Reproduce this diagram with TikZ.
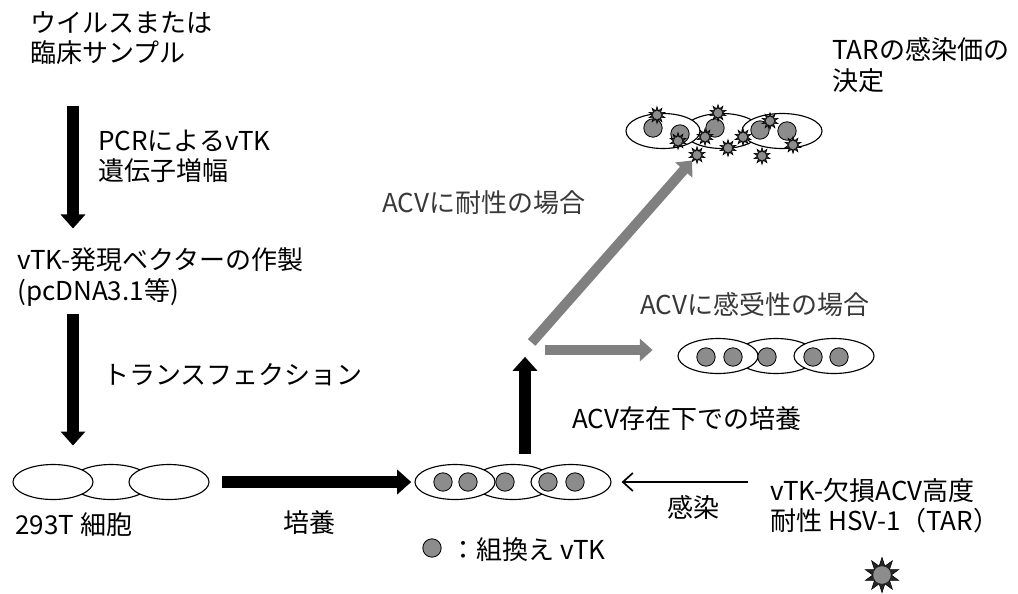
\documentclass[tikz,border=0pt]{standalone}
\usepackage{fontspec}
\setmainfont{Noto Sans CJK JP}
\usetikzlibrary{arrows.meta,shapes.geometric}

\begin{document}
\begin{tikzpicture}[
  x=0.025cm,y=-0.025cm,
  lbl/.style={font=\fontsize{18.5}{21.5}\selectfont,align=left,anchor=west,inner sep=0pt},
  glbl/.style={lbl,text=black!78},
  cell/.style={ellipse,draw,line width=0.8pt,fill=white,minimum width=2cm,minimum height=0.875cm,inner sep=0pt},
  vtk/.style={circle,draw,line width=0.6pt,fill=black!45,minimum size=0.46cm,inner sep=0pt},
  virus/.style={star,star points=10,star point ratio=1.9,draw,fill=black!85,minimum size=#1,inner sep=0pt,
    path picture={\fill[black!45] (path picture bounding box.center) circle (0.25*#1);}},
  blk/.style={-{Triangle[width=0.6cm,length=0.35cm]},line width=0.3cm},
  gry/.style={-{Triangle[width=0.55cm,length=0.32cm]},line width=0.25cm,black!50},
  thinarr/.style={-{Straight Barb[length=2.5mm,width=4.5mm]},line width=1.2pt}
]
  \useasboundingbox (0,0) rectangle (1018,593);

  % left column
  \node[lbl] (src) at (30,38) {ウイルスまたは\\臨床サンプル};
  \node[lbl] (pcr) at (98,156) {PCRによるvTK\\遺伝子増幅};
  \node[lbl] (vec) at (17,277) {vTK-発現ベクターの作製\\(pcDNA3.1等)};
  \node[lbl] (trans) at (103,375) {トランスフェクション};

  % 293T cells
  \node[cell] (a2) at (111,482) {};
  \node[cell] (a1) at (53,482) {};
  \node[cell] (a3) at (169,482) {};
  \node[lbl] (lab293) at (15,525) {293T 細胞};
  \node[lbl] (culture) at (283,523) {培養};

  % cells expressing vTK
  \node[cell] (b2) at (513,482) {};
  \node[cell] (b1) at (455,482) {};
  \node[cell] (b3) at (571,482) {};
  \foreach \x [count=\i] in {443,468,505,548,575} \node[vtk] (bv\i) at (\x,482) {};
  \node[vtk] (key) at (432,548) {};
  \node[lbl] (keylbl) at (450,550) {：組換え vTK};

  % TAR
  \node[lbl] (infect) at (667,508) {感染};
  \node[lbl] (hsv) at (770,506) {vTK-欠損ACV高度\\耐性 HSV-1（TAR）};
  \node[virus=0.88cm] (tar) at (882,575) {};

  \node[lbl] (acvcult) at (572,419) {ACV存在下での培養};

  % sensitive
  \node[cell] (c2) at (776,356) {};
  \node[cell] (c1) at (718,356) {};
  \node[cell] (c3) at (834,356) {};
  \foreach \x [count=\i] in {706,733,767,813,839} \node[vtk] (cv\i) at (\x,357) {};
  \node[glbl] (senslbl) at (640,305) {ACVに感受性の場合};

  % resistant
  \node[cell,minimum width=1.9cm] (d2) at (722,131) {};
  \node[cell,minimum width=1.85cm] (d1) at (663,131) {};
  \node[cell] (d3) at (782,131) {};
  \foreach \x/\y [count=\i] in {653/128,680/134,715/128,760/130,787/131} \node[vtk] (dv\i) at (\x,\y) {};
  \foreach \x/\y [count=\i] in {657/115,678/141,718/113,705/137,728/148,743/137,770/121,762/156,793/145,697/155}
    \node[virus=0.42cm] (rs\i) at (\x,\y) {};
  \node[glbl] (reslbl) at (382,203) {ACVに耐性の場合};
  \node[lbl] (titer) at (832,65) {TARの感染価の\\決定};

  % arrows
  \coordinate (col) at (73,0);
  \coordinate (fork) at (525,350);
  \draw[blk,shorten <=1.02cm,shorten >=0.48cm] (src.south -| col) -- (vec.north -| col);
  \draw[blk,shorten <=0.2cm,shorten >=0.46cm] (vec.south -| col) -- (a1.north -| col);
  \draw[blk,shorten <=0.32cm,shorten >=0.08cm] (a3.east) -- (b1.west);
  \draw[blk,shorten <=0.24cm,shorten >=0.17cm] (b2.north -| fork) -- (fork);
  \draw[gry,shorten <=0.25cm] (fork) -- (rs10);
  \draw[gry,shorten <=0.5cm,shorten >=0.62cm] (fork) -- (fork -| c1.west);
  \draw[thinarr,shorten <=0.55cm,shorten >=0.25cm] (b3.east -| hsv.west) -- (b3.east);
\end{tikzpicture}
\end{document}
